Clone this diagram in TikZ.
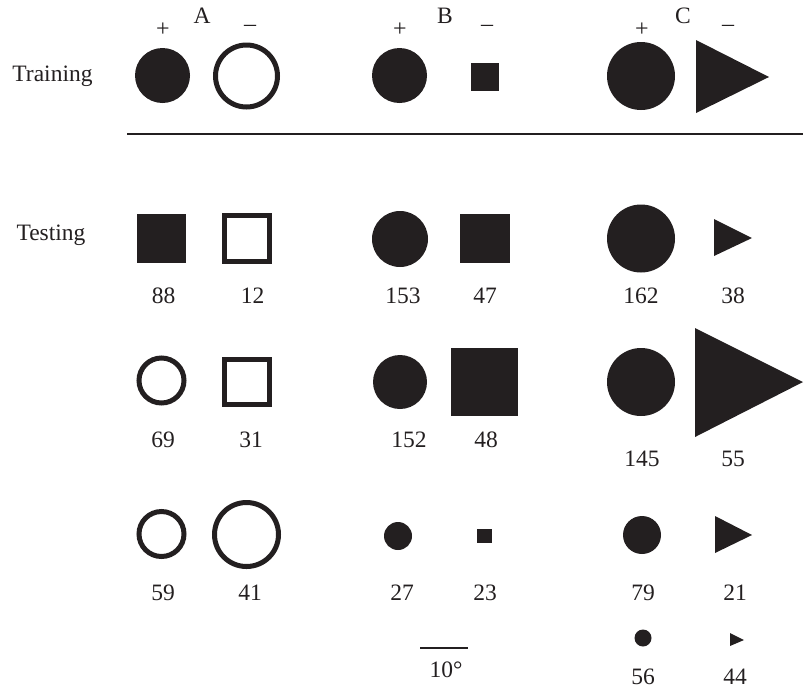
\documentclass[tikz,border=0pt]{standalone}
\usepackage{fontspec}
\setmainfont{Liberation Serif}
\definecolor{ink}{HTML}{231F20}
\begin{document}
\begin{tikzpicture}[x=1pt,y=-1pt,
  lbl/.style={font=\fontsize{23.5}{28}\selectfont, text=ink, anchor=base, inner sep=0pt},
  sgn/.style={font=\fontsize{24}{28}\selectfont, text=ink, inner sep=0pt},
  solidfill/.style={fill=ink},
  ring/.style={draw=ink, line width=5pt}]
\useasboundingbox (0,0) rectangle (808,689);

% row titles
\node[lbl] (train) at (52.5,81) {Training};
\node[lbl] (test) at (51,240) {Testing};

% group headers
\node[lbl] (hA) at (202,23) {A};
\node[lbl] (hB) at (445,23) {B};
\node[lbl] (hC) at (683,23) {C};
\node[sgn] (pA) at (163,30) {+};
\node[sgn] (mA) at (250,28) {–};
\node[sgn] (pB) at (400,30) {+};
\node[sgn] (mB) at (487,28) {–};
\node[sgn] (pC) at (642,30) {+};
\node[sgn] (mC) at (728,28) {–};

% training shapes
\fill[solidfill] (162.5,75.5) circle (27.5);
\draw[ring] (246.5,76) circle (31);
\fill[solidfill] (399.5,75.5) circle (27.5);
\fill[solidfill] (471,63) rectangle (499,91);
\fill[solidfill] (641,76) circle (34);
\fill[solidfill] (696,40) -- (769,77) -- (696,113) -- cycle;

% separator
\draw[ink, line width=2pt] (127,134) -- (803,134);

% testing row 1
\fill[solidfill] (137,214) rectangle (186,263);
\draw[ring] (224.5,215.5) rectangle (269.5,261.5);
\fill[solidfill] (400,239) circle (28);
\fill[solidfill] (460,214) rectangle (510,263);
\fill[solidfill] (641,238.5) circle (34);
\fill[solidfill] (714,219) -- (752,238) -- (714,256) -- cycle;
\node[lbl] (n88) at (163.5,303) {88};
\node[lbl] (n12) at (252.5,303) {12};
\node[lbl] (n153) at (403,303) {153};
\node[lbl] (n47) at (485,303) {47};
\node[lbl] (n162) at (641,303) {162};
\node[lbl] (n38) at (733,303) {38};

% testing row 2
\draw[ring] (161.5,380.5) circle (22.5);
\draw[ring] (224.5,359.5) rectangle (269.5,404.5);
\fill[solidfill] (400,382) circle (27);
\fill[solidfill] (451,348) rectangle (518,416);
\fill[solidfill] (641,382) circle (34);
\fill[solidfill] (695,328) -- (803,382) -- (695,437) -- cycle;
\node[lbl] (n69) at (163,447) {69};
\node[lbl] (n31) at (251,447) {31};
\node[lbl] (n152) at (409,447) {152};
\node[lbl] (n48) at (486,447) {48};
\node[lbl] (n145) at (642,466) {145};
\node[lbl] (n55) at (733,466) {55};

% testing row 3
\draw[ring] (161.5,534) circle (22.5);
\draw[ring] (246.5,534.5) circle (32);
\fill[solidfill] (398,536) circle (14);
\fill[solidfill] (477,529) rectangle (492,543);
\fill[solidfill] (642,535) circle (19);
\fill[solidfill] (715,516) -- (752,535) -- (715,553) -- cycle;
\node[lbl] (n59) at (163,600) {59};
\node[lbl] (n41) at (250,600) {41};
\node[lbl] (n27) at (402,600) {27};
\node[lbl] (n23) at (485,600) {23};
\node[lbl] (n79) at (643,600) {79};
\node[lbl] (n21) at (735,600) {21};

% testing row 4
\fill[solidfill] (643,638) circle (8.5);
\fill[solidfill] (730,633) -- (744,640) -- (730,646) -- cycle;
\node[lbl] (n56) at (643,684) {56};
\node[lbl] (n44) at (735,684) {44};

% scale bar
\coordinate (sb1) at (420,648);
\coordinate (sb2) at (468,648);
\draw[ink, line width=1.5pt] (sb1) -- (sb2);
\node[lbl] (scale) at (446,677) {10\textdegree};
\end{tikzpicture}
\end{document}
